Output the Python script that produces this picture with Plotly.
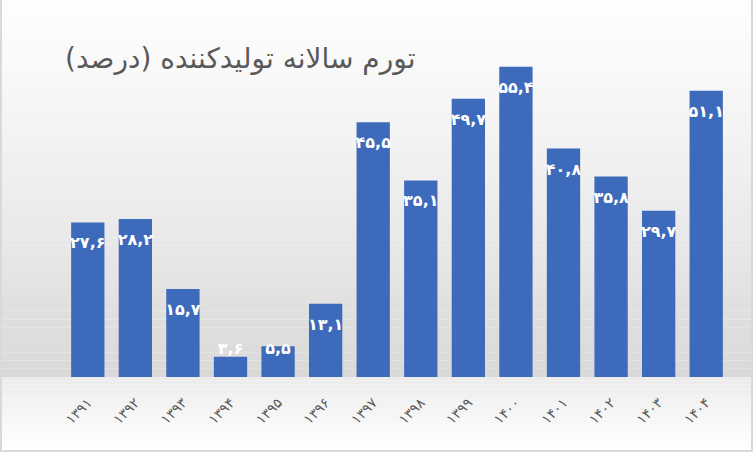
import plotly.graph_objects as go

# ---- data ----
years = ["۱۳۹۱", "۱۳۹۲", "۱۳۹۳", "۱۳۹۴", "۱۳۹۵", "۱۳۹۶", "۱۳۹۷",
         "۱۳۹۸", "۱۳۹۹", "۱۴۰۰", "۱۴۰۱", "۱۴۰۲", "۱۴۰۳", "۱۴۰۴"]
values = [27.6, 28.2, 15.7, 3.6, 5.5, 13.1, 45.5,
          35.1, 49.7, 55.4, 40.8, 35.8, 29.7, 51.1]
title_text = "\u200fتورم سالانه تولیدکننده (درصد)\u200f"

# ---- helpers ----
fa_digits = str.maketrans("0123456789.", "۰۱۲۳۴۵۶۷۸۹,")
labels = [f"{v:.1f}".translate(fa_digits) for v in values]

W, H = 753, 452
ML, MR, MT, MB = 64, 23, 41, 75
YMAX = 60
plot_h = H - MT - MB
px_per_unit = plot_h / YMAX
label_y = [max(v - 22 / px_per_unit, 27 / px_per_unit) for v in values]

fig = go.Figure()
fig.add_trace(go.Bar(
    x=years, y=values,
    marker=dict(color="#3d6aba", line=dict(width=0)),
    hoverinfo="x+y",
))
fig.add_trace(go.Scatter(
    x=years, y=label_y, mode="text", text=labels,
    textfont=dict(family="DejaVu Sans", size=16, color="white", weight="bold"),
    hoverinfo="skip", cliponaxis=False,
))

# background gradient bands (whole figure -> baseline), and below the axis
shapes = []
def lerp(c1, c2, t):
    return "rgb(%d,%d,%d)" % tuple(round(a + (b - a) * t) for a, b in zip(c1, c2))

PW = W - ML - MR
paper_top = (H - MT) / plot_h
paper_bot = -MB / plot_h
n = 50
for i in range(n):
    y0 = paper_top - paper_top * i / n
    y1 = paper_top - paper_top * (i + 1) / n
    t = (i + 0.5) / n
    shapes.append(dict(type="rect", xref="paper", yref="paper",
                       x0=-ML / PW, x1=1 + MR / PW,
                       y0=y1, y1=y0, line=dict(width=0), layer="below",
                       fillcolor=lerp((255, 255, 255), (216, 216, 216), t ** 1.3)))
m = 20
for i in range(m):
    y0 = paper_bot * i / m
    y1 = paper_bot * (i + 1) / m
    t = (i + 0.5) / m
    shapes.append(dict(type="rect", xref="paper", yref="paper",
                       x0=-ML / PW, x1=1 + MR / PW,
                       y0=y1, y1=y0, line=dict(width=0), layer="below",
                       fillcolor=lerp((236, 236, 236), (255, 255, 255), t)))
# outer border
shapes.append(dict(type="rect", xref="paper", yref="paper",
                   x0=(-ML + 1) / PW, x1=1 + (MR - 1) / PW,
                   y0=paper_bot + 1 / plot_h, y1=paper_top - 1 / plot_h,
                   line=dict(color="#d9d9d9", width=2), fillcolor="rgba(0,0,0,0)",
                   layer="above"))

fig.update_layout(
    width=W, height=H,
    margin=dict(l=ML, r=MR, t=MT, b=MB, pad=0),
    paper_bgcolor="white", plot_bgcolor="rgba(0,0,0,0)",
    showlegend=False, bargap=0.3,
    shapes=shapes,
    title=dict(text=title_text, x=65 / W, xanchor="left", xref="container",
               y=1 - 58 / H, yanchor="middle", yref="container",
               font=dict(family="DejaVu Sans", size=28, color="#595959")),
    xaxis=dict(type="category", range=[-0.5, len(years) - 0.5], tickangle=-45,
               showgrid=False, showline=False, ticks="outside", ticklen=11,
               tickcolor="rgba(0,0,0,0)",
               tickfont=dict(family="DejaVu Sans", size=14, color="#595959")),
    yaxis=dict(range=[0, YMAX], visible=False, showgrid=False),
    font=dict(family="DejaVu Sans"),
)

fig.write_html("out.html")
